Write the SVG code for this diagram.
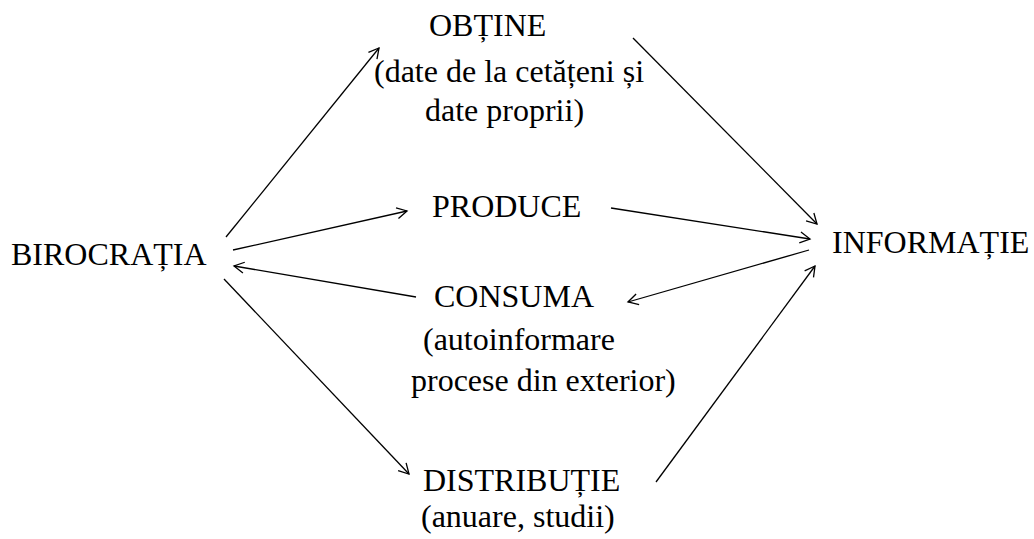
<svg xmlns="http://www.w3.org/2000/svg" width="1034" height="539" viewBox="0 0 1034 539">
<defs>
<style>
text{font-family:"Liberation Serif","Times New Roman",serif;font-size:32px;fill:#000}
.c line{stroke:#000;stroke-width:1.3;fill:none;marker-end:url(#ah)}
</style>
<marker id="ah" markerUnits="userSpaceOnUse" markerWidth="14" markerHeight="14" viewBox="0 0 14 14" refX="12" refY="7" orient="auto">
<path d="M2,1.5 L12,7 L2,12.5" fill="none" stroke="#000" stroke-width="1.3"/>
</marker>
</defs>
<rect width="1034" height="539" fill="#fff"/>
<g class="c" id="connectors">
<line x1="226" y1="237" x2="379" y2="48"/>
<line x1="233" y1="250" x2="407" y2="211"/>
<line x1="416" y1="297" x2="234" y2="266"/>
<line x1="224" y1="279" x2="409" y2="474"/>
<line x1="633" y1="38" x2="817" y2="224"/>
<line x1="611" y1="208" x2="810" y2="239"/>
<line x1="809" y1="250" x2="628" y2="302"/>
<line x1="656" y1="482" x2="815" y2="266"/>
</g>
<g id="birocratia"><text x="11" y="265">BIROCRAȚIA</text></g>
<g id="obtine">
<text x="429" y="36">OBȚINE</text>
<text x="374" y="82">(date de la cetățeni și</text>
<text x="425" y="121">date proprii)</text>
</g>
<g id="produce"><text x="432" y="217">PRODUCE</text></g>
<g id="consuma">
<text x="434" y="307">CONSUMA</text>
<text x="423" y="350">(autoinformare</text>
<text x="411" y="391">procese din exterior)</text>
</g>
<g id="distributie">
<text x="423" y="491">DISTRIBUȚIE</text>
<text x="421" y="527">(anuare, studii)</text>
</g>
<g id="informatie"><text x="832" y="253">INFORMAȚIE</text></g>
</svg>
